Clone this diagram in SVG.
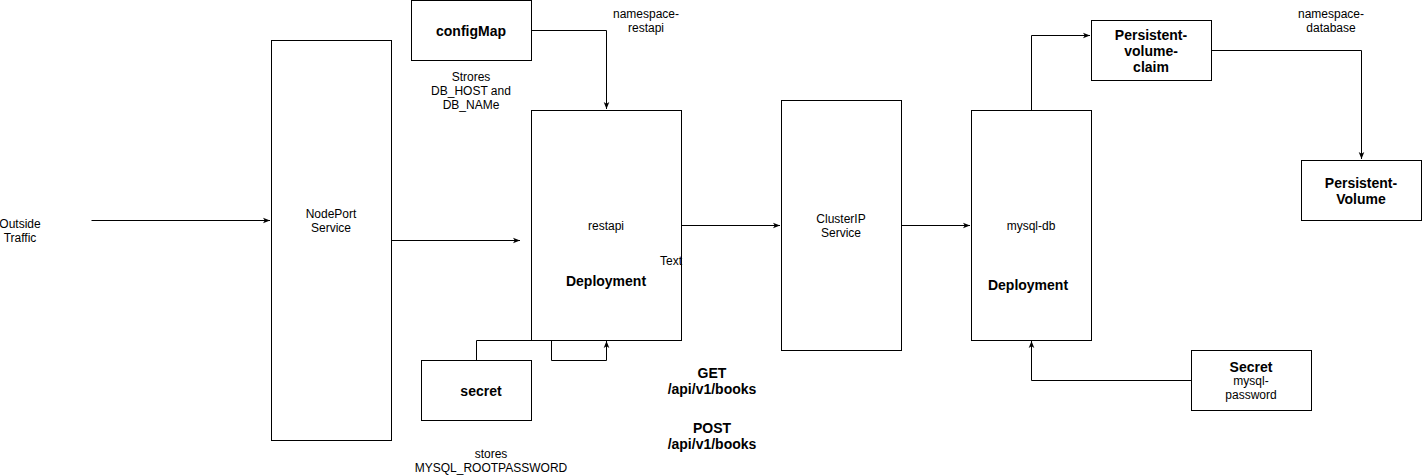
<svg xmlns="http://www.w3.org/2000/svg" width="1422" height="475" viewBox="0 0 1422 475">
<style>
rect.n{fill:#fff;stroke:#000;stroke-width:1}
.c{fill:none;stroke:#000;stroke-width:1}
text{font-family:"Liberation Sans",Arial,sans-serif;font-size:12px;fill:#000;text-anchor:middle}
.b{font-weight:bold;font-size:14px}
</style>
<defs>
<marker id="a" viewBox="0 0 10 10" refX="10" refY="5" markerWidth="7" markerHeight="7" orient="auto" markerUnits="userSpaceOnUse">
<path d="M0,1 L10,5 L0,9 L2.5,5 Z" fill="#000"/>
</marker>
</defs>
<rect width="1422" height="475" fill="#fff"/>
<g id="connectors">
<path class="c" d="M91.5,220.5 H270" marker-end="url(#a)"/>
<path class="c" d="M391.5,240.5 H520" marker-end="url(#a)"/>
<path class="c" d="M531.5,30.5 H606.5 V109" marker-end="url(#a)"/>
<path class="c" d="M681.5,225.5 H780" marker-end="url(#a)"/>
<path class="c" d="M901.5,225.5 H970" marker-end="url(#a)"/>
<path class="c" d="M1031.5,110.5 V35.5 H1090" marker-end="url(#a)"/>
<path class="c" d="M1211.5,50.5 H1361.5 V159" marker-end="url(#a)"/>
<path class="c" d="M1191.5,380.5 H1031.5 V341" marker-end="url(#a)"/>
<path class="c" d="M476.5,360.5 V340.5 H551.5 V360.5 H606.5 V341" marker-end="url(#a)"/>
</g>
<g id="outside-traffic"><text x="20" y="228">Outside</text><text x="20" y="242">Traffic</text></g>
<g id="nodeport"><rect class="n" x="271.5" y="40.5" width="120" height="400"/><text x="331" y="218">NodePort</text><text x="331" y="232">Service</text></g>
<g id="configmap"><rect class="n" x="411.5" y="0.5" width="120" height="60"/><text class="b" x="471" y="36">configMap</text></g>
<g id="configmap-note"><text x="471" y="81">Strores</text><text x="471" y="95">DB_HOST and</text><text x="471" y="109">DB_NAMe</text></g>
<g id="ns-restapi"><text x="646" y="18">namespace-</text><text x="646" y="32">restapi</text></g>
<g id="restapi"><rect class="n" x="531.5" y="110.5" width="150" height="230"/><text x="606" y="230">restapi</text><text class="b" x="606" y="286">Deployment</text></g>
<g id="text-label"><text x="671" y="265">Text</text></g>
<g id="clusterip"><rect class="n" x="781.5" y="100.5" width="120" height="250"/><text x="841" y="223">ClusterIP</text><text x="841" y="237">Service</text></g>
<g id="mysqldb"><rect class="n" x="971.5" y="110.5" width="120" height="230"/><text x="1031" y="230">mysql-db</text><text class="b" x="1028" y="290">Deployment</text></g>
<g id="pvc"><rect class="n" x="1091.5" y="20.5" width="120" height="60"/><text class="b" x="1151" y="40">Persistent-</text><text class="b" x="1151" y="56">volume-</text><text class="b" x="1151" y="72">claim</text></g>
<g id="ns-database"><text x="1331" y="18">namespace-</text><text x="1331" y="32">database</text></g>
<g id="pv"><rect class="n" x="1301.5" y="160.5" width="120" height="60"/><text class="b" x="1361" y="188">Persistent-</text><text class="b" x="1361" y="204">Volume</text></g>
<g id="secret-mysql"><rect class="n" x="1191.5" y="350.5" width="120" height="60"/><text class="b" x="1251" y="372">Secret</text><text x="1251" y="385">mysql-</text><text x="1251" y="399">password</text></g>
<g id="secret"><rect class="n" x="421.5" y="360.5" width="110" height="60"/><text class="b" x="481" y="396">secret</text></g>
<g id="secret-note"><text x="491" y="458">stores</text><text x="491" y="472">MYSQL_ROOTPASSWORD</text></g>
<g id="get"><text class="b" x="712" y="378">GET</text><text class="b" x="712" y="394">/api/v1/books</text></g>
<g id="post"><text class="b" x="712" y="433">POST</text><text class="b" x="712" y="449">/api/v1/books</text></g>
</svg>
